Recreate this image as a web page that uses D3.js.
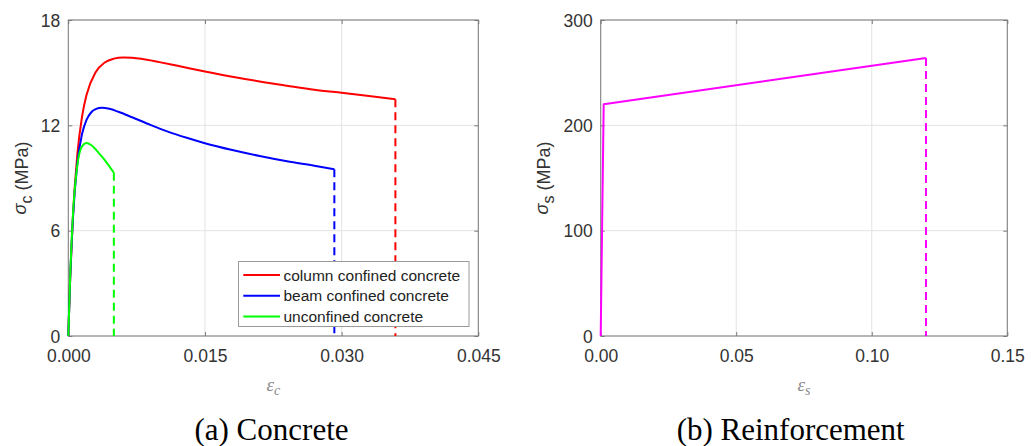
<!DOCTYPE html>
<html><head><meta charset="utf-8">
<script src="https://cdn.jsdelivr.net/npm/d3@7"></script>
<style>body{margin:0;background:#fff}svg{display:block}</style>
</head><body>
<svg id="chart" width="1031" height="446"></svg>
<script>
// ---- data ----
const concreteStrainTicks = [0, 0.015, 0.030, 0.045];
const concreteStressTicks = [0, 6, 12, 18];
const steelStrainTicks = [0, 0.05, 0.10, 0.15];
const steelStressTicks = [0, 100, 200, 300];

const columnStrain = [0, 0.0002, 0.0005, 0.001, 0.0015, 0.002, 0.003, 0.004, 0.005, 0.006, 0.007, 0.008, 0.010, 0.012, 0.015, 0.018, 0.021, 0.024, 0.027, 0.030, 0.033, 0.0359];
const columnStress = [0, 3.19, 6.73, 10.39, 12.47, 13.73, 15.03, 15.58, 15.80, 15.87, 15.85, 15.79, 15.60, 15.39, 15.07, 14.77, 14.50, 14.26, 14.03, 13.85, 13.67, 13.48];

const beamStrain = [0, 0.0002, 0.0005, 0.001, 0.0015, 0.002, 0.0025, 0.003, 0.0037, 0.0045, 0.0055, 0.007, 0.009, 0.011, 0.013, 0.015, 0.018, 0.021, 0.024, 0.027, 0.0292];
const beamStress = [0, 3.19, 6.63, 9.88, 11.49, 12.31, 12.73, 12.92, 13.0, 12.94, 12.77, 12.46, 12.03, 11.63, 11.29, 10.98, 10.59, 10.25, 9.95, 9.70, 9.50];

const unconfinedStrain = [0, 0.0002, 0.0005, 0.001, 0.0015, 0.002, 0.0025, 0.003, 0.0035, 0.004, 0.005];
const unconfinedStress = [0, 3.27, 6.81, 9.76, 10.79, 11.0, 10.88, 10.63, 10.33, 10.02, 9.30];

const steelStrain = [0, 0.0011, 0.12];
const steelStress = [0, 220, 264];

const concreteNames = ["column confined concrete", "beam confined concrete", "unconfined concrete"];
const concreteColors = ["#ff0000", "#0000ff", "#00ff00"];
const steelColor = "#ff00ff";

// ---- drawing ----
const svg = d3.select("#chart");
const tickFont = "'Liberation Sans', Arial, sans-serif";

function panel(opt) {
  const x = d3.scaleLinear().domain(opt.xDomain).range([opt.left, opt.right]);
  const y = d3.scaleLinear().domain(opt.yDomain).range([opt.bottom, opt.top]);
  const g = svg.append("g");

  // grid
  g.append("g").selectAll("line.gx").data(opt.xTicks).join("line")
    .attr("x1", d => x(d)).attr("x2", d => x(d)).attr("y1", opt.top).attr("y2", opt.bottom)
    .attr("stroke", "#e3e3e3").attr("stroke-width", 1);
  g.append("g").selectAll("line.gy").data(opt.yTicks).join("line")
    .attr("y1", d => y(d)).attr("y2", d => y(d)).attr("x1", opt.left).attr("x2", opt.right)
    .attr("stroke", "#e3e3e3").attr("stroke-width", 1);

  // axes (inward ticks, box)
  const axB = d3.axisBottom(x).tickValues(opt.xTicks).tickSize(-4).tickFormat(d3.format(opt.xFmt)).tickPadding(8);
  const axT = d3.axisTop(x).tickValues(opt.xTicks).tickSize(-4).tickFormat("");
  const axL = d3.axisLeft(y).tickValues(opt.yTicks).tickSize(-4).tickFormat(d3.format("d")).tickPadding(8);
  const axR = d3.axisRight(y).tickValues(opt.yTicks).tickSize(-4).tickFormat("");
  const style = sel => {
    sel.selectAll("path").attr("stroke", "#7a7a7a").attr("stroke-width", 1);
    sel.selectAll("line").attr("stroke", "#7a7a7a");
    sel.selectAll("text").attr("fill", "#333").style("font-family", tickFont).style("font-size", "17.5px");
  };
  g.append("g").attr("transform", `translate(0,${opt.bottom})`).call(axB).call(style)
    .selectAll("text").attr("dy", null).attr("y", 25.5);
  g.append("g").attr("transform", `translate(0,${opt.top})`).call(axT).call(style);
  g.append("g").attr("transform", `translate(${opt.left},0)`).call(axL).call(style)
    .selectAll("text").attr("dy", "0.36em");
  g.append("g").attr("transform", `translate(${opt.right},0)`).call(axR).call(style);
  g.selectAll(".domain").attr("d", null);
  g.append("rect").attr("x", opt.left).attr("y", opt.top)
    .attr("width", opt.right - opt.left).attr("height", opt.bottom - opt.top)
    .attr("fill", "none").attr("stroke", "#7a7a7a").attr("stroke-width", 1);

  // series
  const line = d3.line().x(d => x(d[0])).y(d => y(d[1])).curve(opt.curve);
  opt.series.forEach(s => {
    const pts = s.strain.map((e, i) => [e, s.stress[i]]);
    const last = pts[pts.length - 1];
    g.append("line")
      .attr("x1", x(last[0])).attr("x2", x(last[0]))
      .attr("y1", y(last[1])).attr("y2", y(0))
      .attr("stroke", s.color).attr("stroke-width", 2).attr("stroke-dasharray", "8,5");
    g.append("path").datum(pts).attr("d", line)
      .attr("fill", "none").attr("stroke", s.color).attr("stroke-width", 2)
      .attr("stroke-linejoin", "round");
  });

  // y label
  const yl = svg.append("text")
    .attr("transform", `translate(${opt.yLabelX},${(opt.top + opt.bottom) / 2}) rotate(-90)`)
    .attr("text-anchor", "middle").attr("fill", "#333")
    .style("font-family", tickFont).style("font-size", "18px");
  yl.append("tspan").text("σ").style("font-style", "italic").attr("dy", "-2");
  yl.append("tspan").text(opt.ySub).attr("dy", "6").style("font-size", "16px");
  yl.append("tspan").text(" (MPa)").attr("dy", "-4");

  // x label
  const xl = svg.append("text")
    .attr("x", (opt.left + opt.right) / 2).attr("y", 391)
    .attr("text-anchor", "middle").attr("fill", "#8a8a8a")
    .style("font-family", "'Liberation Serif', 'Times New Roman', serif").style("font-style", "italic")
    .style("font-size", "19px");
  xl.append("tspan").text("ε");
  xl.append("tspan").text(opt.xSub).attr("dy", "4").style("font-size", "14px");

  // caption
  svg.append("text").attr("x", opt.captionX).attr("y", 440)
    .attr("text-anchor", "middle").attr("fill", "#000")
    .style("font-family", "'Liberation Serif', 'Times New Roman', serif").style("font-size", "31px")
    .text(opt.caption);

  return {x, y, g};
}

const left = panel({
  left: 68.3, right: 478.3, top: 20, bottom: 336,
  xDomain: [0, 0.045], yDomain: [0, 18],
  xTicks: concreteStrainTicks, yTicks: concreteStressTicks, xFmt: ".3f",
  curve: d3.curveMonotoneX,
  series: [
    {strain: columnStrain, stress: columnStress, color: concreteColors[0]},
    {strain: beamStrain, stress: beamStress, color: concreteColors[1]},
    {strain: unconfinedStrain, stress: unconfinedStress, color: concreteColors[2]}
  ],
  yLabelX: 28, ySub: "c", xSub: "c", caption: "(a) Concrete", captionX: 271.5
});

const right = panel({
  left: 600.7, right: 1007.3, top: 20, bottom: 336,
  xDomain: [0, 0.15], yDomain: [0, 300],
  xTicks: steelStrainTicks, yTicks: steelStressTicks, xFmt: ".2f",
  curve: d3.curveLinear,
  series: [{strain: steelStrain, stress: steelStress, color: steelColor}],
  yLabelX: 550, ySub: "s", xSub: "s", caption: "(b) Reinforcement", captionX: 790.7
});

// legend
const lg = svg.append("g");
lg.append("rect").attr("x", 238.5).attr("y", 261.5).attr("width", 230.5).attr("height", 65)
  .attr("fill", "#fff").attr("stroke", "#9a9a9a").attr("stroke-width", 1);
concreteNames.forEach((n, i) => {
  const yy = 275 + i * 20.7;
  lg.append("line").attr("x1", 243.3).attr("x2", 280).attr("y1", yy).attr("y2", yy)
    .attr("stroke", concreteColors[i]).attr("stroke-width", 2);
  lg.append("text").attr("x", 283.5).attr("y", yy).attr("dy", "0.36em")
    .attr("fill", "#222").style("font-family", tickFont).style("font-size", "15.5px").text(n);
});
</script>
</body></html>
